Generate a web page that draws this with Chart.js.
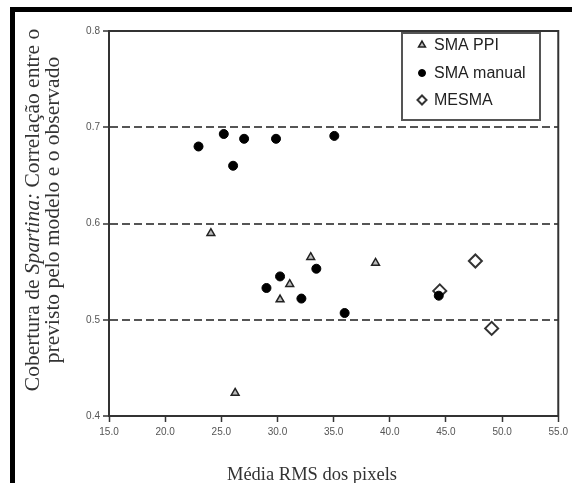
<!DOCTYPE html>
<html>
<head>
<meta charset="utf-8">
<script src="https://cdn.jsdelivr.net/npm/chart.js@4/dist/chart.umd.min.js"></script>
<style>
  body { margin: 0; background: #fff; }
  #wrap { position: relative; width: 572px; height: 483px; }
  #wrap canvas { position: absolute; left: 0; top: 0; }
  .bar { position: absolute; background: #000; z-index: 2; }
</style>
</head>
<body>
<div id="wrap">
  <canvas id="mycanvas" width="572" height="483"></canvas>
  <div class="bar" style="left:10px;top:7px;width:562px;height:5px"></div>
  <div class="bar" style="left:10px;top:7px;width:5px;height:476px"></div>
</div>
<script>
// values
var ppiX = [24.07, 26.23, 30.23, 31.09, 32.96, 38.73];
var ppiY = [0.590, 0.424, 0.521, 0.537, 0.565, 0.559];

var manualX = [22.97, 25.22, 26.05, 27.03, 29.87, 35.06, 29.02, 30.23, 32.13, 33.46, 35.98, 44.36];
var manualY = [0.680, 0.693, 0.660, 0.688, 0.688, 0.691, 0.533, 0.545, 0.522, 0.553, 0.507, 0.525];

var mesmaX = [44.45, 47.62, 49.07];
var mesmaY = [0.530, 0.561, 0.491];

var seriesNames = ['SMA PPI', 'SMA manual', 'MESMA'];
var dashedAt = [0.5, 0.6, 0.7];

var serif = '"Liberation Serif", "DejaVu Serif", serif';
var sans = '"Liberation Sans", Arial, sans-serif';

function pts(xs, ys){
  var out = [];
  for(var i = 0; i < xs.length; i++){
    out.push({x: xs[i], y: ys[i]});
  }
  return out;
}

// frame, axis titles and the boxed legend
var extras = {
  id: 'extras',
  afterDatasetsDraw: function(chart){
    var ctx = chart.ctx;
    var a = chart.chartArea;
    ctx.save();
    ctx.strokeStyle = '#333';
    ctx.lineWidth = 2;
    ctx.strokeRect(a.left, a.top, a.right - a.left, a.bottom - a.top);

    // legend box
    ctx.fillStyle = '#fff';
    ctx.fillRect(402, 33, 138, 87);
    ctx.strokeStyle = '#555';
    ctx.lineWidth = 2;
    ctx.strokeRect(402, 33, 138, 87);
    var rows = [45, 73, 100];
    ctx.font = '16px ' + sans;
    ctx.textBaseline = 'middle';
    ctx.textAlign = 'left';
    for(var i = 0; i < chart.data.datasets.length; i++){
      var ds = chart.data.datasets[i];
      ctx.fillStyle = ds.backgroundColor;
      ctx.strokeStyle = ds.borderColor;
      ctx.lineWidth = ds.borderWidth;
      Chart.helpers.drawPoint(ctx, {pointStyle: ds.pointStyle, radius: ds.legendRadius, rotation: 0, borderWidth: ds.borderWidth}, 422, rows[i]);
      ctx.fillStyle = '#222';
      ctx.fillText(seriesNames[i], 434, rows[i] + 1);
    }

    // x title
    ctx.fillStyle = '#333';
    ctx.font = '18.5px ' + serif;
    ctx.textAlign = 'center';
    ctx.textBaseline = 'middle';
    ctx.fillText('Média RMS dos pixels', 312, 475);

    // y title, two lines, "Spartina:" in italics
    var fs = '21.5px ';
    ctx.translate(33, 210);
    ctx.rotate(-Math.PI / 2);
    var parts = [['Cobertura de ', ''], ['Spartina:', 'italic '], [' Correlação entre o', '']];
    var total = 0;
    for(var j = 0; j < parts.length; j++){
      ctx.font = parts[j][1] + fs + serif;
      total += ctx.measureText(parts[j][0]).width;
    }
    var x = -total / 2;
    ctx.textAlign = 'left';
    for(var k = 0; k < parts.length; k++){
      ctx.font = parts[k][1] + fs + serif;
      ctx.fillText(parts[k][0], x, 0);
      x += ctx.measureText(parts[k][0]).width;
    }
    ctx.font = fs + serif;
    ctx.textAlign = 'center';
    ctx.fillText('previsto pelo modelo e o observado', 0, 20);
    ctx.restore();
  }
};

var ctx = document.getElementById('mycanvas');
var myChart = new Chart(ctx, {
  type: 'scatter',
  data: {
    datasets: [{
      label: seriesNames[0],
      data: pts(ppiX, ppiY),
      pointStyle: 'triangle',
      radius: 4.5,
      legendRadius: 4,
      backgroundColor: '#bbb',
      borderColor: '#222',
      borderWidth: 1.5
    }, {
      label: seriesNames[1],
      data: pts(manualX, manualY),
      pointStyle: 'circle',
      radius: 4.5,
      legendRadius: 3.5,
      backgroundColor: '#000',
      borderColor: '#000',
      borderWidth: 1
    }, {
      label: seriesNames[2],
      data: pts(mesmaX, mesmaY),
      pointStyle: 'rectRot',
      radius: 6.5,
      legendRadius: 4.5,
      backgroundColor: '#fff',
      borderColor: '#333',
      borderWidth: 2
    }]
  },
  options: {
    responsive: false,
    animation: false,
    layout: { padding: { top: 31, right: 13, left: 0, bottom: 0 } },
    plugins: {
      legend: { display: false },
      title: { display: false },
      tooltip: { enabled: false }
    },
    scales: {
      x: {
        type: 'linear',
        min: 15, max: 55,
        afterFit: function(s){ s.height = 67; },
        ticks: {
          stepSize: 5,
          padding: 4,
          maxRotation: 0,
          color: '#555',
          font: { family: sans, size: 10 },
          callback: function(v){ return v.toFixed(1); }
        },
        grid: { drawOnChartArea: false, tickLength: 6, tickColor: '#333', tickWidth: 1.5 },
        border: { color: '#333', width: 2 }
      },
      y: {
        min: 0.4, max: 0.8,
        afterFit: function(s){ s.width = 109; },
        ticks: {
          stepSize: 0.1,
          padding: 3,
          color: '#555',
          font: { family: sans, size: 10 },
          callback: function(v){ return v.toFixed(1); }
        },
        grid: {
          lineWidth: 2,
          color: function(c){
            var v = c.tick ? Math.round(c.tick.value * 10) / 10 : null;
            return dashedAt.indexOf(v) >= 0 ? '#555' : 'rgba(0,0,0,0)';
          },
          tickLength: 6, tickColor: '#333', tickWidth: 1.5
        },
        border: { color: '#333', width: 2, dash: [8, 4] }
      }
    }
  },
  plugins: [extras]
});
</script>
</body>
</html>
